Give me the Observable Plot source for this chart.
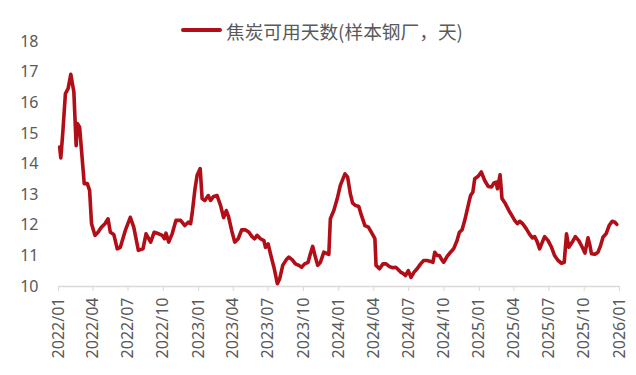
<!DOCTYPE html>
<html>
<head>
<meta charset="utf-8">
<script src="https://cdn.jsdelivr.net/npm/d3@7"></script>
<script src="https://cdn.jsdelivr.net/npm/@observablehq/plot@0.6"></script>
<style>
  html, body { margin: 0; padding: 0; background: #fff; }
  #wrap { position: relative; width: 636px; height: 375px; overflow: hidden; }
  #legend { position: absolute; left: 181px; top: 14px; height: 32px; display: flex; align-items: center;
            font-family: "Noto Sans CJK SC", "Noto Sans", sans-serif; font-size: 18.7px; color: #595959; white-space: nowrap; }
  #legend .sw { display: inline-block; width: 41px; height: 4px; background: #b10e17; border-radius: 2px; margin-right: 4px; }
</style>
</head>
<body>
<div id="wrap">
  <div id="chart"></div>
  <div id="legend"><span class="sw"></span><span id="legendText"></span></div>
</div>
<script>
const seriesName = "焦炭可用天数(样本钢厂，天)";
const dates = [
  "2022-01-04","2022-01-07","2022-01-12","2022-01-19","2022-01-26","2022-02-02","2022-02-10","2022-02-16","2022-02-19","2022-02-25",
  "2022-03-02","2022-03-09","2022-03-17","2022-03-23","2022-03-28","2022-04-06","2022-04-14","2022-04-23","2022-05-02","2022-05-10",
  "2022-05-16","2022-05-25","2022-06-03","2022-06-11","2022-06-24","2022-07-07","2022-07-16","2022-07-28","2022-08-09","2022-08-17",
  "2022-08-29","2022-09-07","2022-09-19","2022-09-28","2022-10-04","2022-10-08","2022-10-15","2022-10-24","2022-11-03","2022-11-15",
  "2022-11-26","2022-12-05","2022-12-11","2022-12-15","2022-12-22","2022-12-28","2023-01-05","2023-01-10","2023-01-17","2023-01-26",
  "2023-02-01","2023-02-09","2023-02-18","2023-02-27","2023-03-07","2023-03-14","2023-03-20","2023-03-28","2023-04-05","2023-04-14",
  "2023-04-23","2023-05-03","2023-05-12","2023-05-20","2023-05-27","2023-06-02","2023-06-11","2023-06-20","2023-06-24","2023-07-01",
  "2023-07-07","2023-07-16","2023-07-25","2023-07-31","2023-08-08","2023-08-17","2023-08-24","2023-09-02","2023-09-10","2023-09-19",
  "2023-09-26","2023-10-04","2023-10-13","2023-10-19","2023-10-25","2023-11-01","2023-11-07","2023-11-14","2023-11-23","2023-12-02",
  "2023-12-06","2023-12-10","2023-12-19","2023-12-28","2024-01-05","2024-01-17","2024-01-24","2024-01-31","2024-02-06","2024-02-13",
  "2024-02-22","2024-02-29","2024-03-09","2024-03-18","2024-03-26","2024-04-04","2024-04-07","2024-04-16","2024-04-25","2024-05-03",
  "2024-05-12","2024-05-21","2024-05-28","2024-06-04","2024-06-10","2024-06-16","2024-06-23","2024-06-30","2024-07-07","2024-07-15",
  "2024-07-23","2024-08-01","2024-08-09","2024-08-18","2024-08-27","2024-09-02","2024-09-07","2024-09-13","2024-09-19","2024-09-24",
  "2024-09-30","2024-10-09","2024-10-18","2024-10-26","2024-11-04","2024-11-10","2024-11-17","2024-11-24","2024-12-03","2024-12-09",
  "2024-12-15","2024-12-20","2024-12-29","2025-01-06","2025-01-15","2025-01-24","2025-02-02","2025-02-08","2025-02-14","2025-02-17",
  "2025-02-24","2025-03-01","2025-03-10","2025-03-19","2025-03-28","2025-04-03","2025-04-10","2025-04-16","2025-04-24","2025-05-03",
  "2025-05-12","2025-05-19","2025-05-25","2025-06-01","2025-06-07","2025-06-14","2025-06-20","2025-06-29","2025-07-08","2025-07-16",
  "2025-07-25","2025-08-03","2025-08-10","2025-08-16","2025-08-22","2025-08-31","2025-09-08","2025-09-17","2025-09-26","2025-10-03",
  "2025-10-07","2025-10-11","2025-10-16","2025-10-20","2025-10-29","2025-11-06","2025-11-12","2025-11-19","2025-11-27","2025-12-05",
  "2025-12-13","2025-12-20","2025-12-25"
];
const values = [
  14.55,14.2,14.99,16.3,16.46,16.93,16.35,14.6,15.32,15.2,
  14.44,13.36,13.36,13.14,12.05,11.67,11.77,11.94,12.05,12.21,
  11.77,11.7,11.23,11.28,11.83,12.26,11.94,11.18,11.23,11.72,
  11.45,11.77,11.72,11.67,11.56,11.74,11.45,11.72,12.16,12.16,
  11.99,12.1,12.05,12.38,13.14,13.63,13.85,12.87,12.81,12.97,
  12.81,12.94,12.97,12.65,12.25,12.48,12.27,11.83,11.45,11.56,
  11.85,11.85,11.77,11.63,11.56,11.67,11.56,11.5,11.28,11.39,
  11.07,10.63,10.09,10.25,10.69,10.87,10.96,10.87,10.74,10.69,
  10.63,10.74,10.79,11.07,11.31,10.96,10.69,10.79,11.12,11.07,
  11.05,12.21,12.48,12.87,13.3,13.68,13.57,13.03,12.72,12.65,
  12.61,12.32,11.99,11.94,11.77,11.56,10.69,10.58,10.74,10.74,
  10.65,10.61,10.63,10.55,10.47,10.43,10.36,10.52,10.3,10.47,
  10.58,10.74,10.85,10.85,10.82,10.79,11.12,11.01,11.01,10.9,
  10.79,10.98,11.12,11.23,11.5,11.77,11.85,12.16,12.65,12.97,
  13.08,13.52,13.6,13.74,13.46,13.27,13.25,13.38,13.41,13.19,
  13.65,12.87,12.7,12.48,12.29,12.16,12.05,12.13,12.05,11.89,
  11.7,11.59,11.63,11.45,11.23,11.45,11.63,11.5,11.28,11.01,
  10.85,10.76,10.79,11.72,11.28,11.45,11.63,11.5,11.28,11.09,
  11.34,11.59,11.34,11.07,11.05,11.12,11.31,11.61,11.72,11.99,
  12.13,12.10,12.03
];
const yTicks = [10, 11, 12, 13, 14, 15, 16, 17, 18];
const xTickLabels = ["2022/01","2022/04","2022/07","2022/10","2023/01","2023/04","2023/07","2023/10",
  "2024/01","2024/04","2024/07","2024/10","2025/01","2025/04","2025/07","2025/10","2026/01"];

const parseDay = d3.utcParse("%Y-%m-%d");
const parseTick = d3.utcParse("%Y/%m");
const data = dates.map((d, i) => ({date: parseDay(d), value: values[i]}));
const xTicks = xTickLabels.map(parseTick);

document.getElementById("legendText").textContent = seriesName;

const chart = Plot.plot({
  width: 636,
  height: 375,
  marginLeft: 58,
  marginRight: 17,
  marginTop: 41,
  marginBottom: 89,
  style: {fontFamily: "'Noto Sans', sans-serif", fontSize: "16px", color: "#595959", background: "#fff"},
  x: {type: "utc", domain: [xTicks[0], xTicks[xTicks.length - 1]]},
  y: {domain: [10, 18]},
  marks: [
    Plot.ruleY([10], {stroke: "#d9d9d9", strokeWidth: 1.3}),
    Plot.axisY({ticks: yTicks, tickSize: 0, tickPadding: 20, fontSize: 16, fill: "#595959", label: null}),
    Plot.axisX({ticks: xTicks, tickSize: 5, tickPadding: 6, tickRotate: -90, stroke: "#d9d9d9", fill: "#595959",
      fontSize: 16, label: null, tickFormat: d3.utcFormat("%Y/%m")}),
    Plot.lineY(data, {x: "date", y: "value", stroke: "#b10e17", strokeWidth: 3.6, strokeLinejoin: "round", strokeLinecap: "round"})
  ]
});
document.getElementById("chart").appendChild(chart);
</script>
</body>
</html>
